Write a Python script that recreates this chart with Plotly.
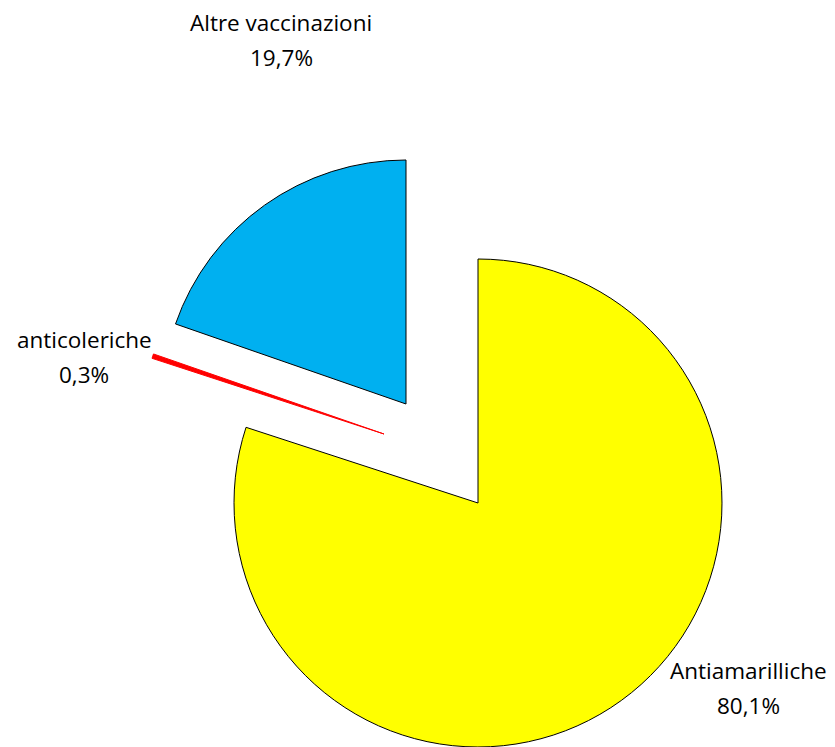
import plotly.graph_objects as go

# ---- data ----
labels = ["Antiamarilliche", "anticoleriche", "Altre vaccinazioni"]
values = [80.1, 0.3, 19.7]
pct_text = ["80,1%", "0,3%", "19,7%"]
colors = ["#FFFF00", "#FF0000", "#00B0F0"]
edge_colors = ["#000000", "#FF0000", "#000000"]

# ---- layout constants (screen pixels) ----
OFF = 8                      # default page body margin
W, H = 835 - OFF, 747 - OFF  # figure size that fits the window
R = 244
# exploded slice apex positions (screen px)
apex = [(478, 503), (384, 434), (406, 404)]
# label positions: (x centre, baseline of name, baseline of percentage)
label_pos = [(748, 677, 712), (84, 347, 381), (281, 29, 64)]

FONT = "Open Sans"
FS = 22.5

fig = go.Figure()
for i in range(len(values)):
    cx, cy = apex[i][0] - OFF, apex[i][1] - OFF
    fill = [colors[j] if j == i else "rgba(0,0,0,0)" for j in range(len(values))]
    lcol = [edge_colors[j] if j == i else "rgba(0,0,0,0)" for j in range(len(values))]
    lw = [1 if j == i else 0 for j in range(len(values))]
    fig.add_trace(go.Pie(
        labels=labels, values=values, sort=False, direction="clockwise",
        rotation=0, textinfo="none", hoverinfo="label+percent",
        marker=dict(colors=fill, line=dict(color=lcol, width=lw)),
        domain=dict(x=[max(0, (cx - R) / W), min(1, (cx + R) / W)],
                    y=[max(0, 1 - (cy + R) / H), min(1, 1 - (cy - R) / H)]),
        showlegend=False,
    ))

annotations = []
for i in range(len(values)):
    x, yb1, yb2 = label_pos[i]
    for txt, yb in ((labels[i], yb1), (pct_text[i], yb2)):
        annotations.append(dict(
            text=txt, x=(x - OFF) / W, y=1 - (yb - OFF - 7) / H,
            xref="paper", yref="paper",
            xanchor="center", yanchor="middle", showarrow=False,
            font=dict(family=FONT, size=FS, color="#000000"),
        ))

fig.update_layout(
    width=W, height=H, margin=dict(l=0, r=0, t=0, b=0),
    paper_bgcolor="white", plot_bgcolor="white",
    annotations=annotations,
)
fig.write_html("out.html")
